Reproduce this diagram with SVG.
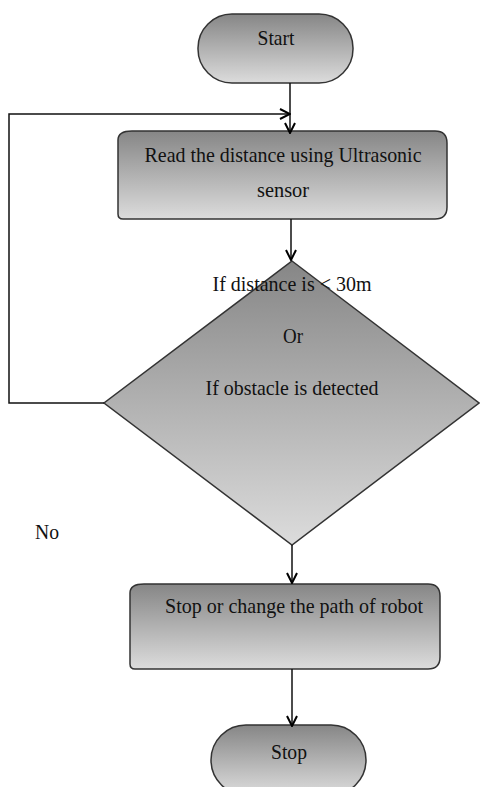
<svg xmlns="http://www.w3.org/2000/svg" width="480" height="787" viewBox="0 0 480 787">
<defs>
<linearGradient id="g" x1="0" y1="0" x2="0" y2="1">
<stop offset="0" stop-color="#868686"/>
<stop offset="1" stop-color="#dcdcdc"/>
</linearGradient>
<marker id="arr" viewBox="0 0 12 12" refX="11" refY="6" markerWidth="12" markerHeight="12" markerUnits="userSpaceOnUse" orient="auto">
<path d="M1,1 L11,6 L1,11" fill="none" stroke="#000" stroke-width="2"/>
</marker>
<style>
.shape{fill:url(#g);stroke:#333;stroke-width:1.5}
.t{font-family:"Liberation Serif","Times New Roman",serif;font-size:22px;fill:#111;text-anchor:middle}
.c{fill:none;stroke:#111;stroke-width:1.5}
</style>
</defs>
<rect width="480" height="787" fill="#fff"/>
<g id="start">
<rect class="shape" x="198" y="14" width="155" height="69" rx="34" ry="34"/>
<text class="t" x="276" y="45" textLength="37" lengthAdjust="spacingAndGlyphs">Start</text>
</g>
<g id="read">
<path class="shape" d="M132,131 L435,131 Q447,131 447,143 L447,207 Q447,219 435,219 L123,219 Q118,219 118,214 L118,140 Q118,131 132,131 Z"/>
<text class="t" x="283" y="162" textLength="277" lengthAdjust="spacingAndGlyphs">Read the distance using Ultrasonic</text>
<text class="t" x="283" y="197" textLength="52" lengthAdjust="spacingAndGlyphs">sensor</text>
</g>
<g id="decision">
<polygon class="shape" points="292,261 479,403 292,545 104,403"/>
<text class="t" x="292" y="291" textLength="159" lengthAdjust="spacingAndGlyphs">If distance is &lt; 30m</text>
<text class="t" x="293" y="343" textLength="20" lengthAdjust="spacingAndGlyphs">Or</text>
<text class="t" x="292" y="395" textLength="173" lengthAdjust="spacingAndGlyphs">If obstacle is detected</text>
</g>
<g id="change">
<path class="shape" d="M144,584 L428,584 Q440,584 440,596 L440,657 Q440,669 428,669 L135,669 Q130,669 130,664 L130,593 Q130,584 144,584 Z"/>
<text class="t" x="294" y="613" textLength="258" lengthAdjust="spacingAndGlyphs">Stop or change the path of robot</text>
</g>
<g id="stop">
<rect class="shape" x="211" y="725" width="155" height="70" rx="35" ry="35"/>
<text class="t" x="289" y="759" textLength="36" lengthAdjust="spacingAndGlyphs">Stop</text>
</g>
<g id="label-no">
<text class="t" x="47" y="539" textLength="24" lengthAdjust="spacingAndGlyphs">No</text>
</g>
<g id="connectors">
<path class="c" d="M290,83 L290,133" marker-end="url(#arr)"/>
<path class="c" d="M104,403 L9,403 L9,114 L290,114" marker-end="url(#arr)"/>
<path class="c" d="M291,219 L291,260" marker-end="url(#arr)"/>
<path class="c" d="M292,545 L292,583" marker-end="url(#arr)"/>
<path class="c" d="M292,669 L292,726" marker-end="url(#arr)"/>
</g>
</svg>
